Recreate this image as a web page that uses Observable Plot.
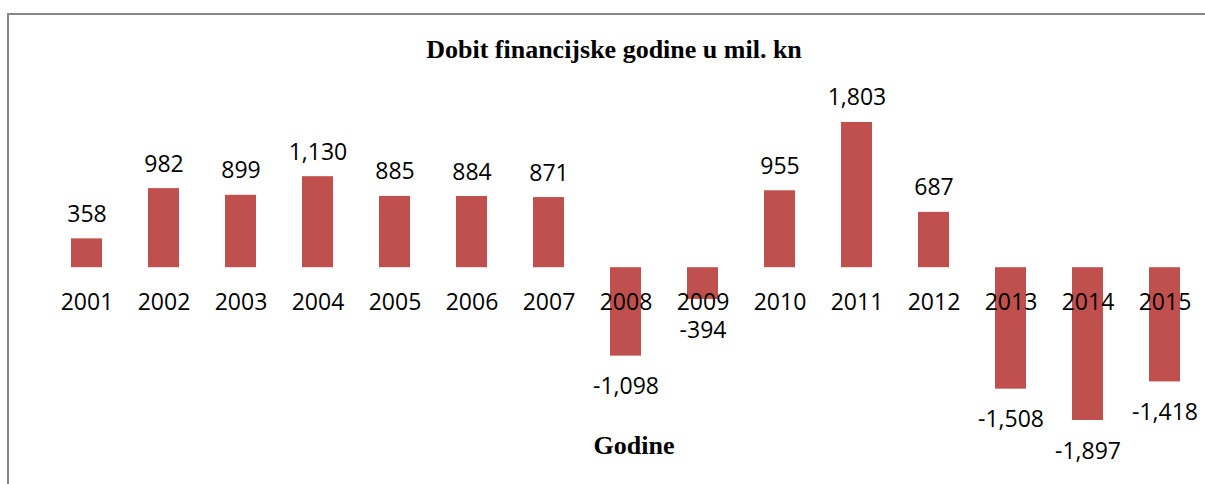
<!DOCTYPE html>
<html><head><meta charset="utf-8">
<script src="https://cdn.jsdelivr.net/npm/d3@7"></script>
<script src="https://cdn.jsdelivr.net/npm/@observablehq/plot@0.6"></script>
<style>
html,body{margin:0;padding:0;background:#fff;}
#wrap{position:relative;width:1205px;height:484px;overflow:hidden;background:#fff;}
#chart{position:absolute;left:0;top:0;}
#frame{position:absolute;left:7px;top:13px;width:1300px;height:600px;border-left:2px solid #878787;border-top:2px solid #878787;pointer-events:none;}
#title{position:absolute;left:0;width:1228px;top:35px;text-align:center;font:bold 26px "Liberation Serif",serif;color:#000;line-height:30px;}
#xtitle{position:absolute;left:0;width:1268px;top:431px;text-align:center;font:bold 26px "Liberation Serif",serif;color:#000;line-height:30px;}
</style></head>
<body>
<div id="wrap">
  <div id="chart"></div>
  <div id="frame"></div>
  <div id="title">Dobit financijske godine u mil. kn</div>
  <div id="xtitle">Godine</div>
</div>
<script>
const years = ["2001","2002","2003","2004","2005","2006","2007","2008","2009","2010","2011","2012","2013","2014","2015"];
const profit = [358, 982, 899, 1130, 885, 884, 871, -1098, -394, 955, 1803, 687, -1508, -1897, -1418];

const data = years.map((y, i) => ({year: y, value: profit[i]}));
const pos = data.filter(d => d.value >= 0);
const neg = data.filter(d => d.value < 0);
const fmt = d3.formatLocale({decimal: ".", thousands: ",", grouping: [3], currency: ["", ""], minus: "-"}).format(",");
const font = "'Open Sans', sans-serif";

const chart = Plot.plot({
  width: 1205,
  height: 484,
  style: {background: "transparent", fontFamily: font},
  x: {type: "band", domain: years, range: [46, 1205], paddingInner: 0.6, paddingOuter: 0.3, axis: null},
  y: {domain: [-2500, 2500], range: [468.55, 65.85], axis: null},
  marks: [
    Plot.barY(data, {x: "year", y: "value", fill: "#C0504D"}),
    Plot.ruleY([0], {x1: 46, x2: 1205, stroke: "#868686", strokeWidth: 1.5}),
    Plot.text(years, {x: d => d, y: () => 0, dy: 35, text: d => d, fontSize: 23, fill: "#000"}),
    Plot.text(pos, {x: "year", y: "value", text: d => fmt(d.value), lineAnchor: "bottom", dy: -17, fontSize: 23, fill: "#000"}),
    Plot.text(neg, {x: "year", y: "value", text: d => fmt(d.value), lineAnchor: "top", dy: 22, fontSize: 23, fill: "#000"})
  ]
});
document.getElementById("chart").appendChild(chart);
</script>
</body></html>
